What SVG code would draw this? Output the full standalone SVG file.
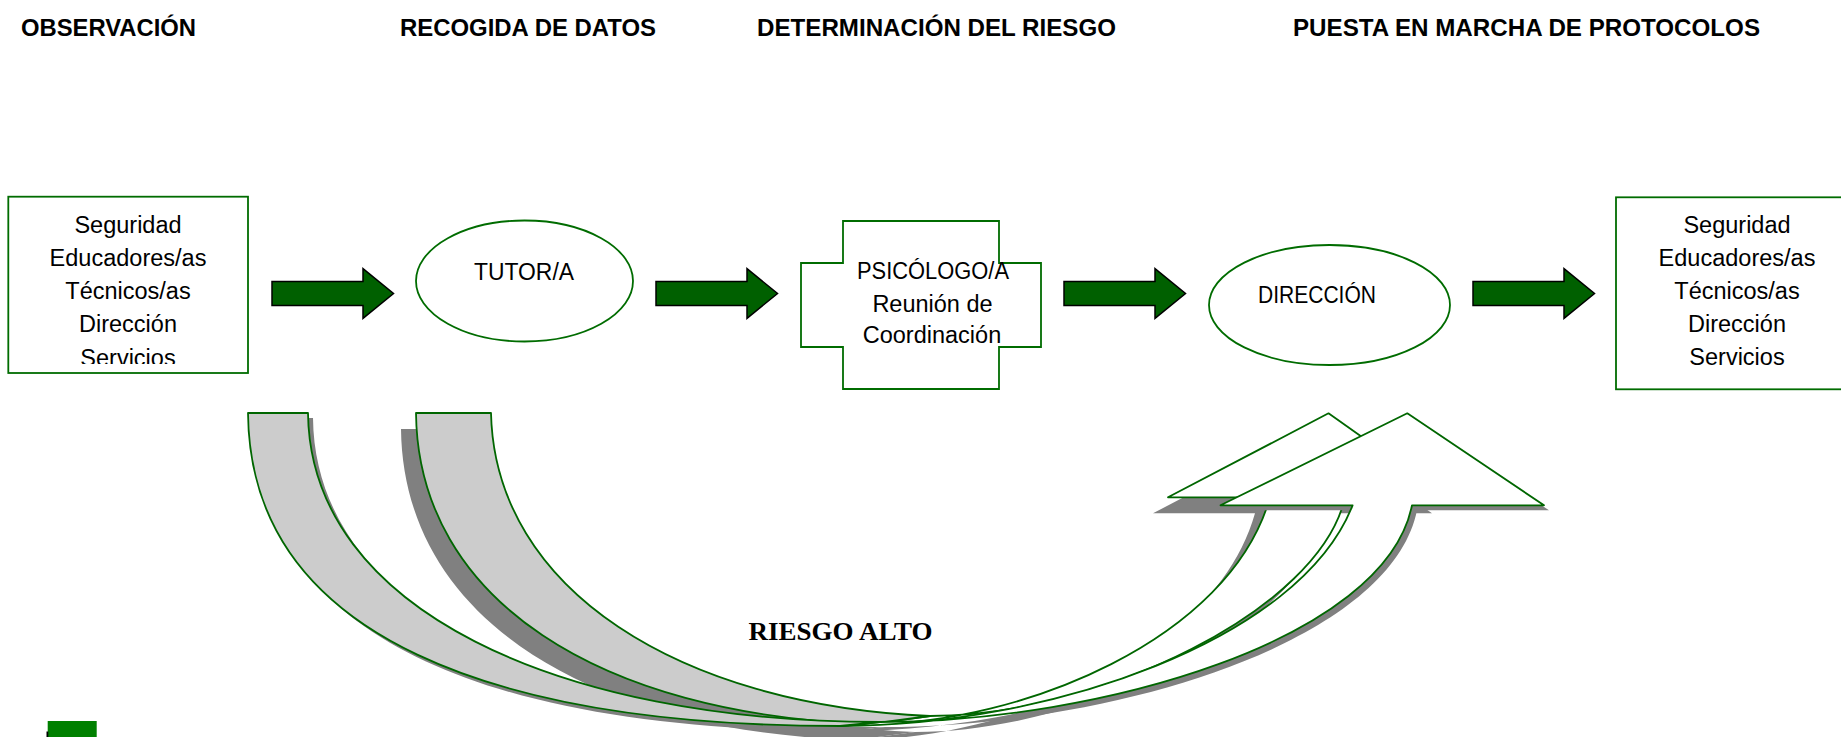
<svg xmlns="http://www.w3.org/2000/svg" width="1841" height="737" viewBox="0 0 1841 737">
<style>
.hdr{font-family:"Liberation Sans",Arial,sans-serif;font-weight:bold;font-size:24.5px;fill:#000}
.txt{font-family:"Liberation Sans",Arial,sans-serif;font-size:23.5px;fill:#000;text-anchor:middle}
.node{fill:#fff;stroke:#006c00;stroke-width:1.8}
.blk{fill:#006000;stroke:#000;stroke-width:1.5;stroke-linejoin:miter}
.tail{fill:#cccccc;stroke:#006600;stroke-width:1.8;stroke-linejoin:round}
.front{fill:#fff;stroke:#006600;stroke-width:1.8;stroke-linejoin:round}
.shadow{fill:#808080;stroke:none}
.lbl{font-family:"Liberation Serif","Times New Roman",serif;font-weight:bold;font-size:26px;fill:#000}
</style>
<defs>
<polygon id="blockArrow" points="0,-12 91,-12 91,-24.8 121.5,0 91,24.8 91,12 0,12"/>
<clipPath id="clipLeft"><rect x="8" y="196" width="240" height="168"/></clipPath>
<path id="pTail" d="M 840 726 C 500 726 250 640 248 413 L 308 413 C 310 610 560 722 880 722 Z"/>
<path id="pFront" d="M 1407.3 413.3 L 1544 505.3 L 1412 505.3 C 1385 640 1100 722 880 722 L 840 726 C 1050 726 1300 640 1352.6 505.3 L 1220.5 505.3 Z"/>
<path id="qTail" d="M 870 724 C 600 715 418 600 416 413 L 491 413 C 495 590 680 705 930 716 Z"/>
<path id="qFront" d="M 1328.5 413.3 L 1447 497.3 L 1345 497.3 C 1320 610 1100 716 930 716 L 870 724 C 1020 724 1230 640 1270 497.3 L 1168 497.3 Z"/>
</defs>

<g id="headers">
<text class="hdr" x="21" y="36" textLength="175" lengthAdjust="spacingAndGlyphs">OBSERVACIÓN</text>
<text class="hdr" x="400" y="36" textLength="256" lengthAdjust="spacingAndGlyphs">RECOGIDA DE DATOS</text>
<text class="hdr" x="757" y="36" textLength="359" lengthAdjust="spacingAndGlyphs">DETERMINACIÓN DEL RIESGO</text>
<text class="hdr" x="1293" y="36" textLength="467" lengthAdjust="spacingAndGlyphs">PUESTA EN MARCHA DE PROTOCOLOS</text>
</g>

<g id="connectors">
<use href="#blockArrow" class="blk" x="272" y="293.5"/>
<use href="#blockArrow" class="blk" x="656" y="293.5"/>
<use href="#blockArrow" class="blk" x="1064" y="293.5"/>
<use href="#blockArrow" class="blk" x="1473" y="293.5"/>
<g id="curvedArrowBack">
<g transform="translate(-15,16)"><use href="#qFront" class="shadow"/><use href="#qTail" class="shadow"/></g>
<use href="#qFront" class="front"/>
<use href="#qTail" class="tail"/>
</g>
<g id="curvedArrowFront">
<g transform="translate(5,5)"><use href="#pFront" class="shadow"/><use href="#pTail" class="shadow"/></g>
<use href="#pFront" class="front"/>
<use href="#pTail" class="tail"/>
</g>
</g>

<g id="node-observacion">
<rect class="node" x="8.3" y="196.7" width="239.7" height="176.3"/>
<g clip-path="url(#clipLeft)">
<text class="txt" x="128" y="233">Seguridad</text>
<text class="txt" x="128" y="266">Educadores/as</text>
<text class="txt" x="128" y="299">Técnicos/as</text>
<text class="txt" x="128" y="332">Dirección</text>
<text class="txt" x="128" y="366">Servicios</text>
</g>
</g>

<g id="node-tutor">
<ellipse class="node" cx="524.5" cy="281" rx="108.5" ry="60.5"/>
<text class="txt" x="524" y="280" textLength="100" lengthAdjust="spacingAndGlyphs">TUTOR/A</text>
</g>

<g id="node-psicologo">
<polygon class="node" points="843,221 999,221 999,263 1041,263 1041,347 999,347 999,389 843,389 843,347 801,347 801,263 843,263"/>
<text class="txt" x="933" y="279" textLength="152" lengthAdjust="spacingAndGlyphs">PSICÓLOGO/A</text>
<text class="txt" x="932.5" y="312">Reunión de</text>
<text class="txt" x="932" y="343">Coordinación</text>
</g>

<g id="node-direccion">
<ellipse class="node" cx="1329.5" cy="305" rx="120.5" ry="60"/>
<text class="txt" x="1317" y="303" textLength="118" lengthAdjust="spacingAndGlyphs">DIRECCIÓN</text>
</g>

<g id="node-protocolos">
<rect class="node" x="1616" y="197.3" width="232" height="192"/>
<text class="txt" x="1737" y="233">Seguridad</text>
<text class="txt" x="1737" y="266">Educadores/as</text>
<text class="txt" x="1737" y="299">Técnicos/as</text>
<text class="txt" x="1737" y="332">Dirección</text>
<text class="txt" x="1737" y="365">Servicios</text>
</g>

<g id="label-riesgo">
<text class="lbl" x="748.5" y="640" textLength="184" lengthAdjust="spacingAndGlyphs">RIESGO ALTO</text>
</g>

<g id="legend">
<rect x="47.7" y="721" width="49" height="17" fill="#008000"/>
<rect x="46.5" y="731.5" width="1.8" height="6" fill="#000"/>
</g>
</svg>
